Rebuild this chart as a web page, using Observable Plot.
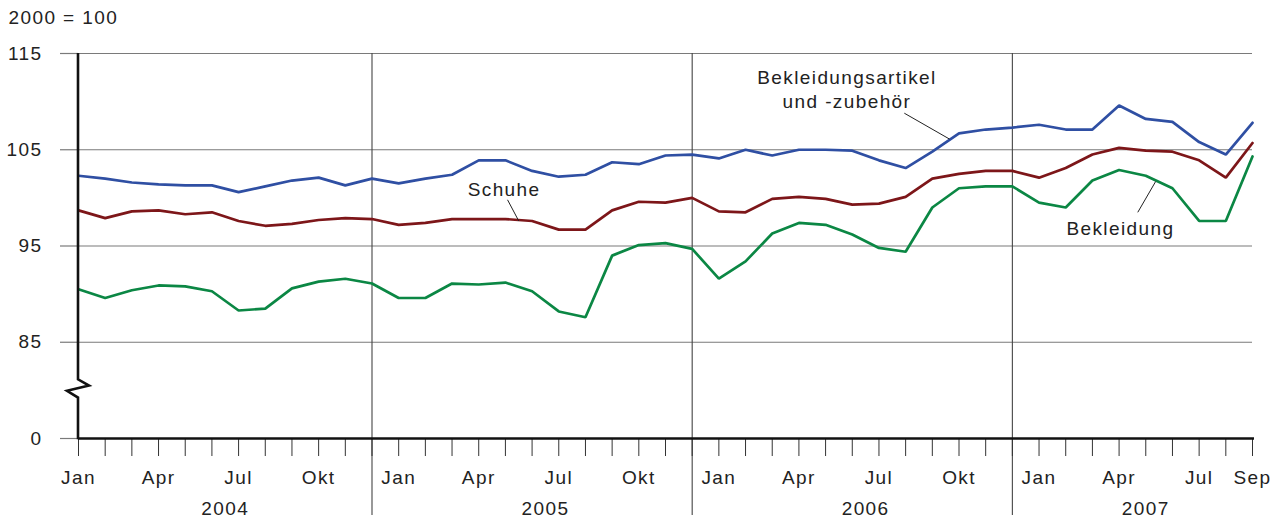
<!DOCTYPE html>
<html>
<head>
<meta charset="utf-8">
<script src="https://cdn.jsdelivr.net/npm/d3@7"></script>
<script src="https://cdn.jsdelivr.net/npm/@observablehq/plot@0.6"></script>
<style>
  html, body { margin: 0; padding: 0; background: #fff; }
  #chart svg { display: block; }
</style>
</head>
<body>
<div id="chart"></div>
<script>
// ---- data ----
const periods = [
  "2004-01","2004-02","2004-03","2004-04","2004-05","2004-06","2004-07","2004-08","2004-09","2004-10","2004-11","2004-12",
  "2005-01","2005-02","2005-03","2005-04","2005-05","2005-06","2005-07","2005-08","2005-09","2005-10","2005-11","2005-12",
  "2006-01","2006-02","2006-03","2006-04","2006-05","2006-06","2006-07","2006-08","2006-09","2006-10","2006-11","2006-12",
  "2007-01","2007-02","2007-03","2007-04","2007-05","2007-06","2007-07","2007-08","2007-09"
];
const monthNames = ["Jan","Feb","Mär","Apr","Mai","Jun","Jul","Aug","Sep","Okt","Nov","Dez"];
const labelledMonths = ["Jan","Apr","Jul","Okt"];
const years = ["2004","2005","2006","2007"];

const bekleidungsartikel = [
  102.3,102.0,101.6,101.4,101.3,101.3,100.6,101.2,101.8,102.1,101.3,102.0,
  101.5,102.0,102.4,103.9,103.9,102.8,102.2,102.4,103.7,103.5,104.4,104.5,
  104.1,105.0,104.4,105.0,105.0,104.9,103.9,103.1,104.8,106.7,107.1,107.3,
  107.6,107.1,107.1,109.6,108.2,107.9,105.8,104.5,107.8
];
const schuhe = [
  98.7,97.9,98.6,98.7,98.3,98.5,97.6,97.1,97.3,97.7,97.9,97.8,
  97.2,97.4,97.8,97.8,97.8,97.6,96.7,96.7,98.7,99.6,99.5,100.0,
  98.6,98.5,99.9,100.1,99.9,99.3,99.4,100.1,102.0,102.5,102.8,102.8,
  102.1,103.1,104.5,105.2,104.9,104.8,103.9,102.1,105.7
];
const bekleidung = [
  90.5,89.6,90.4,90.9,90.8,90.3,88.3,88.5,90.6,91.3,91.6,91.1,
  89.6,89.6,91.1,91.0,91.2,90.3,88.2,87.6,94.0,95.1,95.3,94.7,
  91.6,93.4,96.3,97.4,97.2,96.2,94.8,94.4,99.0,101.0,101.2,101.2,
  99.5,99.0,101.8,102.9,102.3,101.0,97.6,97.6,104.3
];

const seriesNames = ["Bekleidungsartikel und -zubehör","Schuhe","Bekleidung"];
const seriesColors = ["#2f4fa3","#7d1619","#0b8744"];
const yTicks = [0,85,95,105,115];

// annotations (label position and leader line in data space: month index, value)
const labels = [
  {text:"Bekleidungsartikel\nund -zubehör", i:28.8, v:111.4},
  {text:"Schuhe", i:15.95, v:101.0},
  {text:"Bekleidung", i:39.05, v:97.0}
];
const leaders = [
  {i1:30.95, v1:108.8, i2:32.65, v2:106.1},
  {i1:16.08, v1:99.8, i2:16.5, v2:97.6},
  {i1:39.7, v1:98.5, i2:40.37, v2:101.7}
];

// ---- table ----
const seriesValues = [bekleidungsartikel, schuhe, bekleidung];
const rows = [];
seriesValues.forEach((vals, s) => vals.forEach((v, i) => rows.push({i, series: seriesNames[s], value: v})));

// broken axis: value 0 is drawn at the position of 75
const BREAK_BASE = 75;
const yPos = d => d === 0 ? BREAK_BASE : d;

const idx = periods.map((p, i) => i);
const monthOf = i => monthNames[+periods[i].slice(5, 7) - 1];
const lastIdx = periods.length - 1;
const decIdx = idx.filter(i => monthOf(i) === "Dez");
const yearMid = years.map(y => {
  const ii = idx.filter(i => periods[i].startsWith(y));
  return {year: y, i: (ii[0] + ii[ii.length - 1]) / 2};
});

const font = "'Liberation Sans', Arial, Helvetica, sans-serif";

const leftAxis = (index, scales) => {
  const x0 = scales.x(0);
  const yTop = scales.y(115), yBot = scales.y(BREAK_BASE);
  const b1 = scales.y(81.1), b2 = scales.y(80.45), b3 = scales.y(79.9), b4 = scales.y(79.2);
  const path = d3.create("svg:path")
    .attr("fill", "none").attr("stroke", "#111").attr("stroke-width", 2.6)
    .attr("stroke-linejoin", "miter")
    .attr("d", `M${x0},${yTop}V${b1}L${x0 + 11},${b2}L${x0 - 11},${b3}L${x0},${b4}V${yBot + 1.2}`);
  return path.node();
};

const chart = Plot.plot({
  width: 1283,
  height: 521,
  marginLeft: 78,
  marginRight: 31,
  marginTop: 53,
  marginBottom: 83,
  x: {type: "linear", domain: [0, lastIdx]},
  y: {type: "linear", domain: [BREAK_BASE, 115]},
  color: {domain: seriesNames, range: seriesColors},
  style: {fontFamily: font, fontSize: "19px", color: "#222", letterSpacing: "1.4px", background: "#fff"},
  marks: [
    Plot.gridY(yTicks.slice(1), {stroke: "#7a7a7a", strokeOpacity: 1, strokeWidth: 1.2}),
    Plot.axisY(yTicks.map(yPos), {
      tickSize: 18, tickPadding: 18, stroke: "#7a7a7a", strokeWidth: 1.2, fontSize: 19,
      tickFormat: d => d === BREAK_BASE ? "0" : String(d), label: null, fill: "#222"
    }),
    Plot.ruleX(decIdx, {stroke: "#444", strokeWidth: 1.1, insetBottom: -77}),
    Plot.axisX(idx, {
      tickSize: 18, tickPadding: 14, stroke: "#333", strokeWidth: 1, fontSize: 19,
      tickFormat: i => (i === lastIdx || labelledMonths.includes(monthOf(i))) ? monthOf(i) : "",
      label: null, fill: "#222"
    }),
    Plot.text(yearMid, {x: "i", text: "year", frameAnchor: "bottom", dy: 70, lineAnchor: "middle", fill: "#222", fontSize: 19}),
    Plot.line(rows, {x: "i", y: "value", z: "series", stroke: "series", strokeWidth: 2.7, strokeLinejoin: "miter"}),
    Plot.ruleY([BREAK_BASE], {stroke: "#111", strokeWidth: 2.6, insetRight: -2}),
    leftAxis,
    Plot.link(leaders, {x1: "i1", y1: "v1", x2: "i2", y2: "v2", stroke: "#222", strokeWidth: 1}),
    Plot.text(labels, {x: "i", y: "v", text: "text", lineHeight: 1.3, fill: "#222", fontSize: 19}),
    Plot.text(["2000 = 100"], {frameAnchor: "top-left", textAnchor: "start", dx: -70, dy: -43, fill: "#222", fontSize: 19})
  ]
});

document.getElementById("chart").appendChild(chart);
</script>
</body>
</html>
